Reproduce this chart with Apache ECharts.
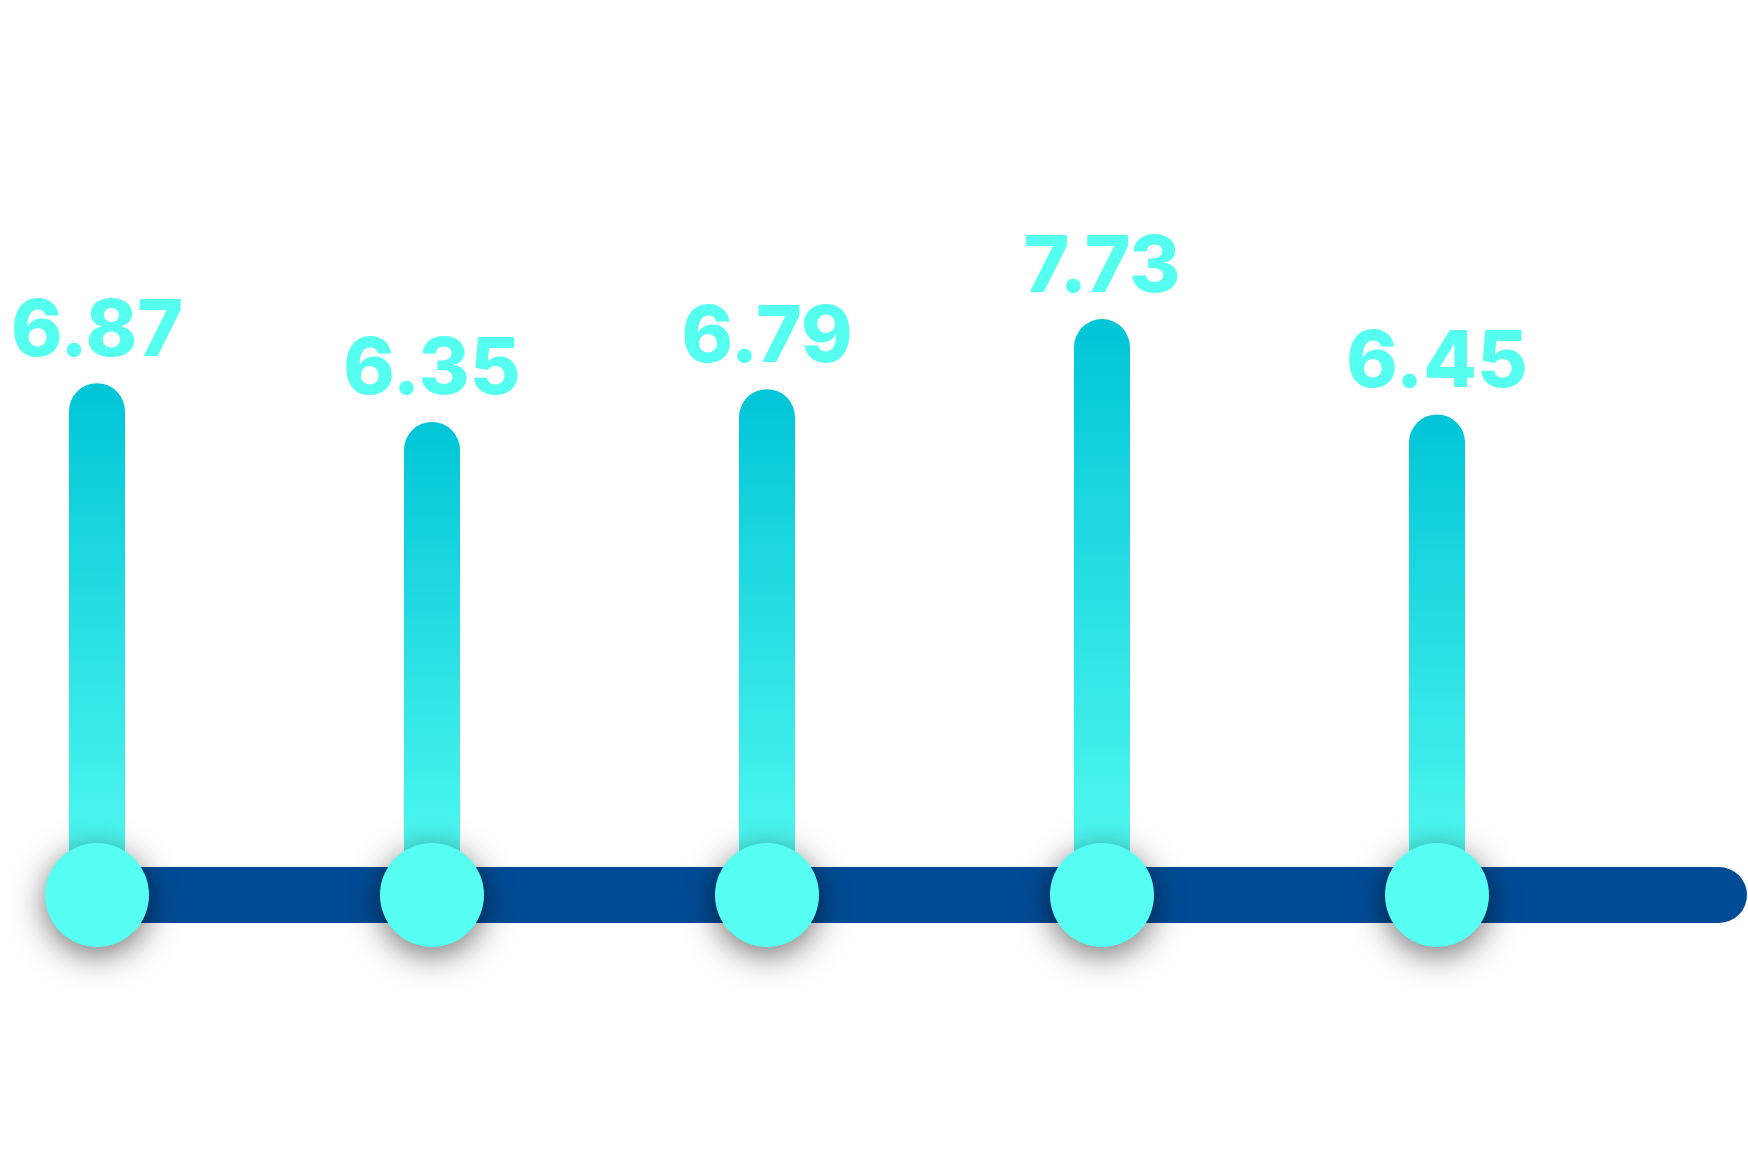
<!DOCTYPE html>
<html>
<head>
<meta charset="utf-8">
<style>
  html, body { margin: 0; padding: 0; background: #fff; }
  #main { width: 1748px; height: 1154px; }
</style>
<script src="https://cdn.jsdelivr.net/npm/echarts@6/dist/echarts.min.js"></script>
</head>
<body>
<div id="main"></div>
<script>
// categories are not labelled in the picture
var categories = ['1', '2', '3', '4', '5'];
var values = [6.87, 6.35, 6.79, 7.73, 6.45];
var baseDots = [0, 0, 0, 0, 0];

var chart = echarts.init(document.getElementById('main'), null, { renderer: 'canvas' });

var option = {
  backgroundColor: '#ffffff',
  animation: false,
  grid: [
    // bars and dots
    { left: 97, top: 150, width: 1340, bottom: 259 },
    // long dark base line
    { left: 97, top: 150, right: 29, bottom: 259 }
  ],
  xAxis: [
    {
      type: 'category',
      gridIndex: 0,
      data: categories,
      boundaryGap: false,
      axisLine: { show: false },
      axisTick: { show: false },
      axisLabel: { show: false },
      splitLine: { show: false }
    },
    {
      type: 'value',
      gridIndex: 1,
      min: 0,
      max: 1,
      axisLine: {
        show: true,
        onZero: false,
        lineStyle: { color: '#004b95', width: 56, cap: 'round' }
      },
      axisTick: { show: false },
      axisLabel: { show: false },
      splitLine: { show: false }
    }
  ],
  yAxis: [
    { type: 'value', gridIndex: 0, min: 0, max: 10, show: false },
    { type: 'value', gridIndex: 1, min: 0, max: 10, show: false }
  ],
  series: [
    {
      type: 'bar',
      xAxisIndex: 0,
      yAxisIndex: 0,
      data: values,
      barWidth: 56,
      z: 3,
      itemStyle: {
        borderRadius: [28, 28, 0, 0],
        color: new echarts.graphic.LinearGradient(0, 0, 0, 1, [
          { offset: 0, color: '#00c5d7' },
          { offset: 1, color: '#55fcf2' }
        ])
      },
      label: {
        show: true,
        position: 'top',
        distance: 12,
        color: '#55fff0',
        fontFamily: 'Inter',
        fontWeight: 800,
        fontSize: 78,
        formatter: function (p) { return p.value.toFixed(2); }
      }
    },
    {
      type: 'scatter',
      xAxisIndex: 0,
      yAxisIndex: 0,
      data: baseDots,
      symbol: 'circle',
      symbolSize: 104,
      clip: false,
      z: 5,
      itemStyle: {
        color: '#55fff2',
        opacity: 1,
        shadowColor: 'rgba(0, 0, 0, 0.55)',
        shadowBlur: 32,
        shadowOffsetY: 8
      }
    }
  ]
};

chart.setOption(option);
</script>
</body>
</html>
